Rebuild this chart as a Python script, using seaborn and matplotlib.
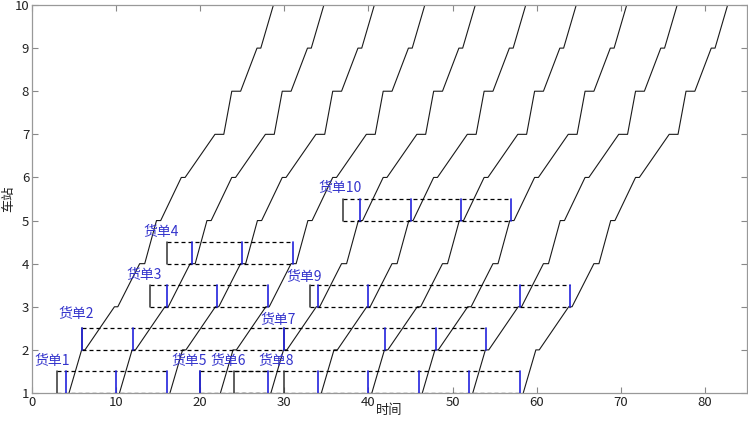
import matplotlib
matplotlib.use("Agg")
import matplotlib.pyplot as plt
import seaborn as sns
import pandas as pd

# ---- data ----
stations = [1, 2, 3, 4, 5, 6, 7, 8, 9, 10]
# running profile of every train relative to its departure from station 1
run_arrive = [0.0, 1.5, 5.4, 8.4, 10.4, 13.35, 17.35, 19.35, 22.35, 24.3]
run_depart = [0.0, 1.9, 5.8, 9.0, 10.9, 13.8, 18.4, 20.4, 22.8, 24.3]
train_departures = [4.4, 10.4, 16.4, 22.4, 28.4, 34.4, 40.4, 46.4, 52.4, 58.4]

order_names = ["货单1", "货单2", "货单3", "货单4", "货单5",
               "货单6", "货单7", "货单8", "货单9", "货单10"]
order_station = [1, 2, 3, 4, 1, 1, 2, 1, 3, 5]
order_start = [3, 6, 14, 16, 20, 24, 30, 30, 33, 37]
order_end = [16, 30, 28, 31, 28, 30, 54, 58, 64, 57]
order_blue = [[4, 10, 16], [6, 12], [16, 22, 28], [19, 25, 31], [20, 28],
              [], [30, 42, 48, 54], [34, 40, 46, 52, 58], [34, 40, 58, 64],
              [39, 45, 51, 57]]
label_x = [0.3, 3.2, 11.2, 13.3, 16.6, 21.2, 27.2, 26.9, 30.2, 34.0]
label_y = [1.75, 2.83, 3.74, 4.74, 1.75, 1.75, 2.69, 1.75, 3.70, 5.75]

x_ticks = [0, 10, 20, 30, 40, 50, 60, 70, 80]
y_ticks = [1, 2, 3, 4, 5, 6, 7, 8, 9, 10]

# ---- build table of train paths ----
rows = []
for k, t0 in enumerate(train_departures):
    order = 0
    for s, a, d in zip(stations, run_arrive, run_depart):
        rows.append({"train": k, "order": order, "time": t0 + a, "station": s})
        order += 1
        if d != a:
            rows.append({"train": k, "order": order, "time": t0 + d, "station": s})
            order += 1
df = pd.DataFrame(rows)

sns.set_style("ticks")
plt.rcParams['font.family'] = ['Noto Sans CJK SC', 'DejaVu Sans']

fig = plt.figure(figsize=(7.48, 4.21), dpi=100)
ax = fig.add_axes([32 / 748, 1 - 393 / 421, 715 / 748, 388 / 421])

sns.lineplot(data=df, x="time", y="station", units="train", estimator=None,
             sort=False, color="#1a1a1a", linewidth=0.8, ax=ax, legend=False)

box_h = 0.5
for name, s, x0, x1, blues, lx, ly in zip(order_names, order_station, order_start,
                                           order_end, order_blue, label_x, label_y):
    ax.plot([x0, x1], [s + box_h, s + box_h], color="black", lw=0.9,
            linestyle=(0, (3.2, 2.4)), zorder=3)
    ax.plot([x0, x1], [s, s], color="black", lw=0.9,
            linestyle=(0, (3.2, 2.4)), zorder=3)
    ax.plot([x0, x0], [s, s + box_h], color="#333333", lw=1.1, zorder=3)
    for b in blues:
        ax.plot([b, b], [s, s + box_h], color="#2222dd", lw=1.2, zorder=4)
    ax.text(lx, ly, name, color="#3333cc", fontsize=10, va="center", ha="left",
            zorder=5)

ax.set_xlim(0, 85)
ax.set_ylim(1, 10)
ax.set_xticks(x_ticks)
ax.set_yticks(y_ticks)
ax.tick_params(direction="in", length=4, width=0.8, colors="#888888",
               labelcolor="#222222", labelsize=9.5, top=True, right=True, pad=2)
for sp in ax.spines.values():
    sp.set_color("#999999")
    sp.set_linewidth(0.9)
ax.set_xlabel("时间", fontsize=9.5, color="#222222", va="center")
ax.xaxis.set_label_coords(0.5, -0.045)
ax.set_ylabel("车站", fontsize=9.5, color="#222222", va="center")
ax.yaxis.set_label_coords(-0.032, 0.5)

fig.savefig("out.png", dpi=100)
